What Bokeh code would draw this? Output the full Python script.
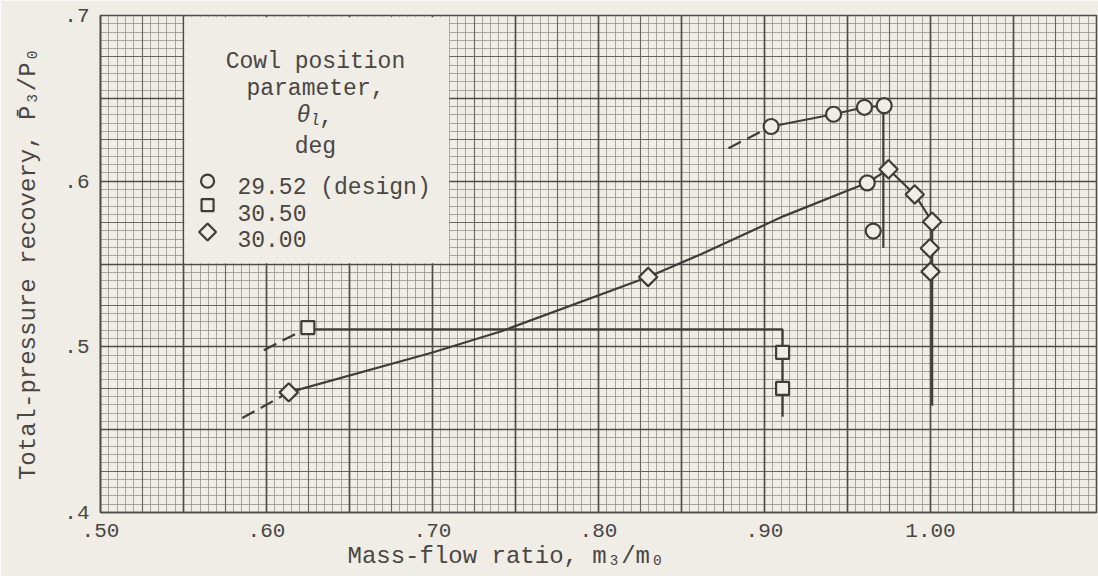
from math import pi

from bokeh.embed import file_html
from bokeh.models import CustomJSTickFormatter, FixedTicker, Grid, Label, Range1d, Title
from bokeh.plotting import figure
from bokeh.resources import INLINE

# ---- measured points -------------------------------------------------------
# Cowl position parameter 29.52 deg (design)
circ_x = [0.9040, 0.9416, 0.9602, 0.9721, 0.9619, 0.9655]
circ_y = [0.6330, 0.6404, 0.6446, 0.6456, 0.5990, 0.5699]
# 30.50 deg
sq_x = [0.6249, 0.9109, 0.9109]
sq_y = [0.5116, 0.4966, 0.4749]
# 30.00 deg
dia_x = [0.6134, 0.8299, 0.9747, 0.9905, 1.0010, 0.9996, 1.0000]
dia_y = [0.4725, 0.5422, 0.6072, 0.5920, 0.5755, 0.5595, 0.5454]

# ---- faired curves (dashed = extrapolated part) ---------------------------
circ_dash_x = [0.8783, 0.9040]
circ_dash_y = [0.6199, 0.6330]
circ_fair_x = [0.9040, 0.9416, 0.9602, 0.9716, 0.9716]
circ_fair_y = [0.6330, 0.6404, 0.6446, 0.6456, 0.5598]

sq_dash_x = [0.5984, 0.6249]
sq_dash_y = [0.4980, 0.5116]
sq_fair_x = [0.6249, 0.9109, 0.9109]
sq_fair_y = [0.5105, 0.5105, 0.4578]

dia_dash_x = [0.5854, 0.6134]
dia_dash_y = [0.4570, 0.4725]
dia_fair_x = [0.6134, 0.7000, 0.7420, 0.8299, 0.8614, 0.9116, 0.9619, 0.9747, 0.9905, 1.0010, 1.0010]
dia_fair_y = [0.4725, 0.4966, 0.5096, 0.5422, 0.5558, 0.5789, 0.5990, 0.6072, 0.5920, 0.5755, 0.4645]

x_ticks = [0.50, 0.60, 0.70, 0.80, 0.90, 1.00]
y_ticks = [0.4, 0.5, 0.6, 0.7]

legend_labels = ["29.52 (design)", "30.50", "30.00"]

x_title = "Mass-flow ratio, m\u2083/m\u2080"
y_title = "Total-pressure recovery, P\u0304\u2083/P\u2080"

# ---- styling ---------------------------------------------------------------
PAPER = "#f0ece6"
INK = "#403c3a"
TEXT = "#4a4643"
FONT = "Liberation Mono"

p = figure(
    width=1098, height=576,
    x_range=Range1d(0.5, 1.1), y_range=Range1d(0.4, 0.7),
    min_border_left=100, min_border_right=2, min_border_top=15, min_border_bottom=64,
    background_fill_color=PAPER, border_fill_color=PAPER,
    output_backend="svg", toolbar_location=None,
)
p.outline_line_color = "#4f4a47"
p.outline_line_width = 1.6
p.grid.visible = False


# graph-paper ruling: 0.005 fine, 0.025 medium, 0.05 heavy
def ruling(step, n_x, n_y, color, width):
    xs = [round(0.5 + i * step, 4) for i in range(n_x + 1)]
    ys = [round(0.4 + i * step, 4) for i in range(n_y + 1)]
    for dim, ticks in ((0, xs), (1, ys)):
        p.add_layout(Grid(dimension=dim, ticker=FixedTicker(ticks=ticks),
                          grid_line_color=color, grid_line_width=width))


ruling(0.005, 120, 60, "#959089", 0.8)
ruling(0.025, 24, 12, "#6a6561", 1.1)
ruling(0.05, 12, 6, "#4f4a47", 1.6)

# axes
for ax in (p.xaxis[0], p.yaxis[0]):
    ax.axis_line_color = "#4f4a47"
    ax.axis_line_width = 1.6
    ax.major_tick_line_color = None
    ax.minor_tick_line_color = None
    ax.major_label_text_font = FONT
    ax.major_label_text_font_size = "21px"
    ax.major_label_text_color = TEXT

p.xaxis.ticker = FixedTicker(ticks=x_ticks)
p.yaxis.ticker = FixedTicker(ticks=y_ticks)
p.xaxis.formatter = CustomJSTickFormatter(code="return tick.toFixed(2).replace(/^0/, '')")
p.yaxis.formatter = CustomJSTickFormatter(code="return tick.toFixed(1).replace(/^0/, '')")
p.xaxis.major_label_standoff = 5
p.yaxis.major_label_standoff = 5

p.yaxis.axis_label = y_title
p.yaxis.axis_label_text_font = FONT
p.yaxis.axis_label_text_font_size = "24px"
p.yaxis.axis_label_text_font_style = "normal"
p.yaxis.axis_label_text_color = TEXT
p.yaxis.axis_label_standoff = 19

p.add_layout(Title(text=x_title, align="left", offset=247, standoff=2,
                   text_font=FONT, text_font_size="24px", text_font_style="normal",
                   text_color=TEXT), "below")

# pasted-on key panel
p.quad(left=0.5505, right=0.71, bottom=0.5505, top=0.699,
       fill_color=PAPER, line_color=None)

# faired curves
for xs, ys in ((circ_dash_x, circ_dash_y), (sq_dash_x, sq_dash_y), (dia_dash_x, dia_dash_y)):
    p.line(xs, ys, line_color=INK, line_width=2.2, line_dash="14 7")
for xs, ys in ((circ_fair_x, circ_fair_y), (sq_fair_x, sq_fair_y), (dia_fair_x, dia_fair_y)):
    p.line(xs, ys, line_color=INK, line_width=2.2)

# data symbols
mk = dict(line_color=INK, line_width=2.2, fill_color=PAPER)
p.scatter(circ_x, circ_y, marker="circle", size=15, **mk)
p.scatter(sq_x, sq_y, marker="square", size=13, **mk)
p.scatter(dia_x, dia_y, marker="square", angle=pi / 4, size=13, **mk)

# key symbols
p.scatter([0.5645], [0.6000], marker="circle", size=13, **mk)
p.scatter([0.5645], [0.5855], marker="square", size=12, **mk)
p.scatter([0.5645], [0.5693], marker="square", angle=pi / 4, size=12, **mk)


def label(x, y, text, size, **kw):
    opts = dict(text_font=FONT, text_font_size=f"{size}px", text_color=TEXT,
                text_baseline="alphabetic", text_align="left")
    opts.update(kw)
    p.add_layout(Label(x=x, y=y, text=text, **opts))


# key heading
label(0.6295, 0.6717, "Cowl position", 23, text_align="center")
label(0.6295, 0.6554, "parameter,", 23, text_align="center")
label(0.6180, 0.6392, "θ", 23, text_font_style="italic")
label(0.6263, 0.6365, "l", 16, text_font_style="italic")
label(0.6318, 0.6392, ",", 23)
label(0.6295, 0.6205, "deg", 23, text_align="center")
for yy, txt in zip([0.5958, 0.5807, 0.5651], legend_labels):
    label(0.5825, yy, txt, 23)

open("out.html", "w").write(file_html(p, INLINE))
